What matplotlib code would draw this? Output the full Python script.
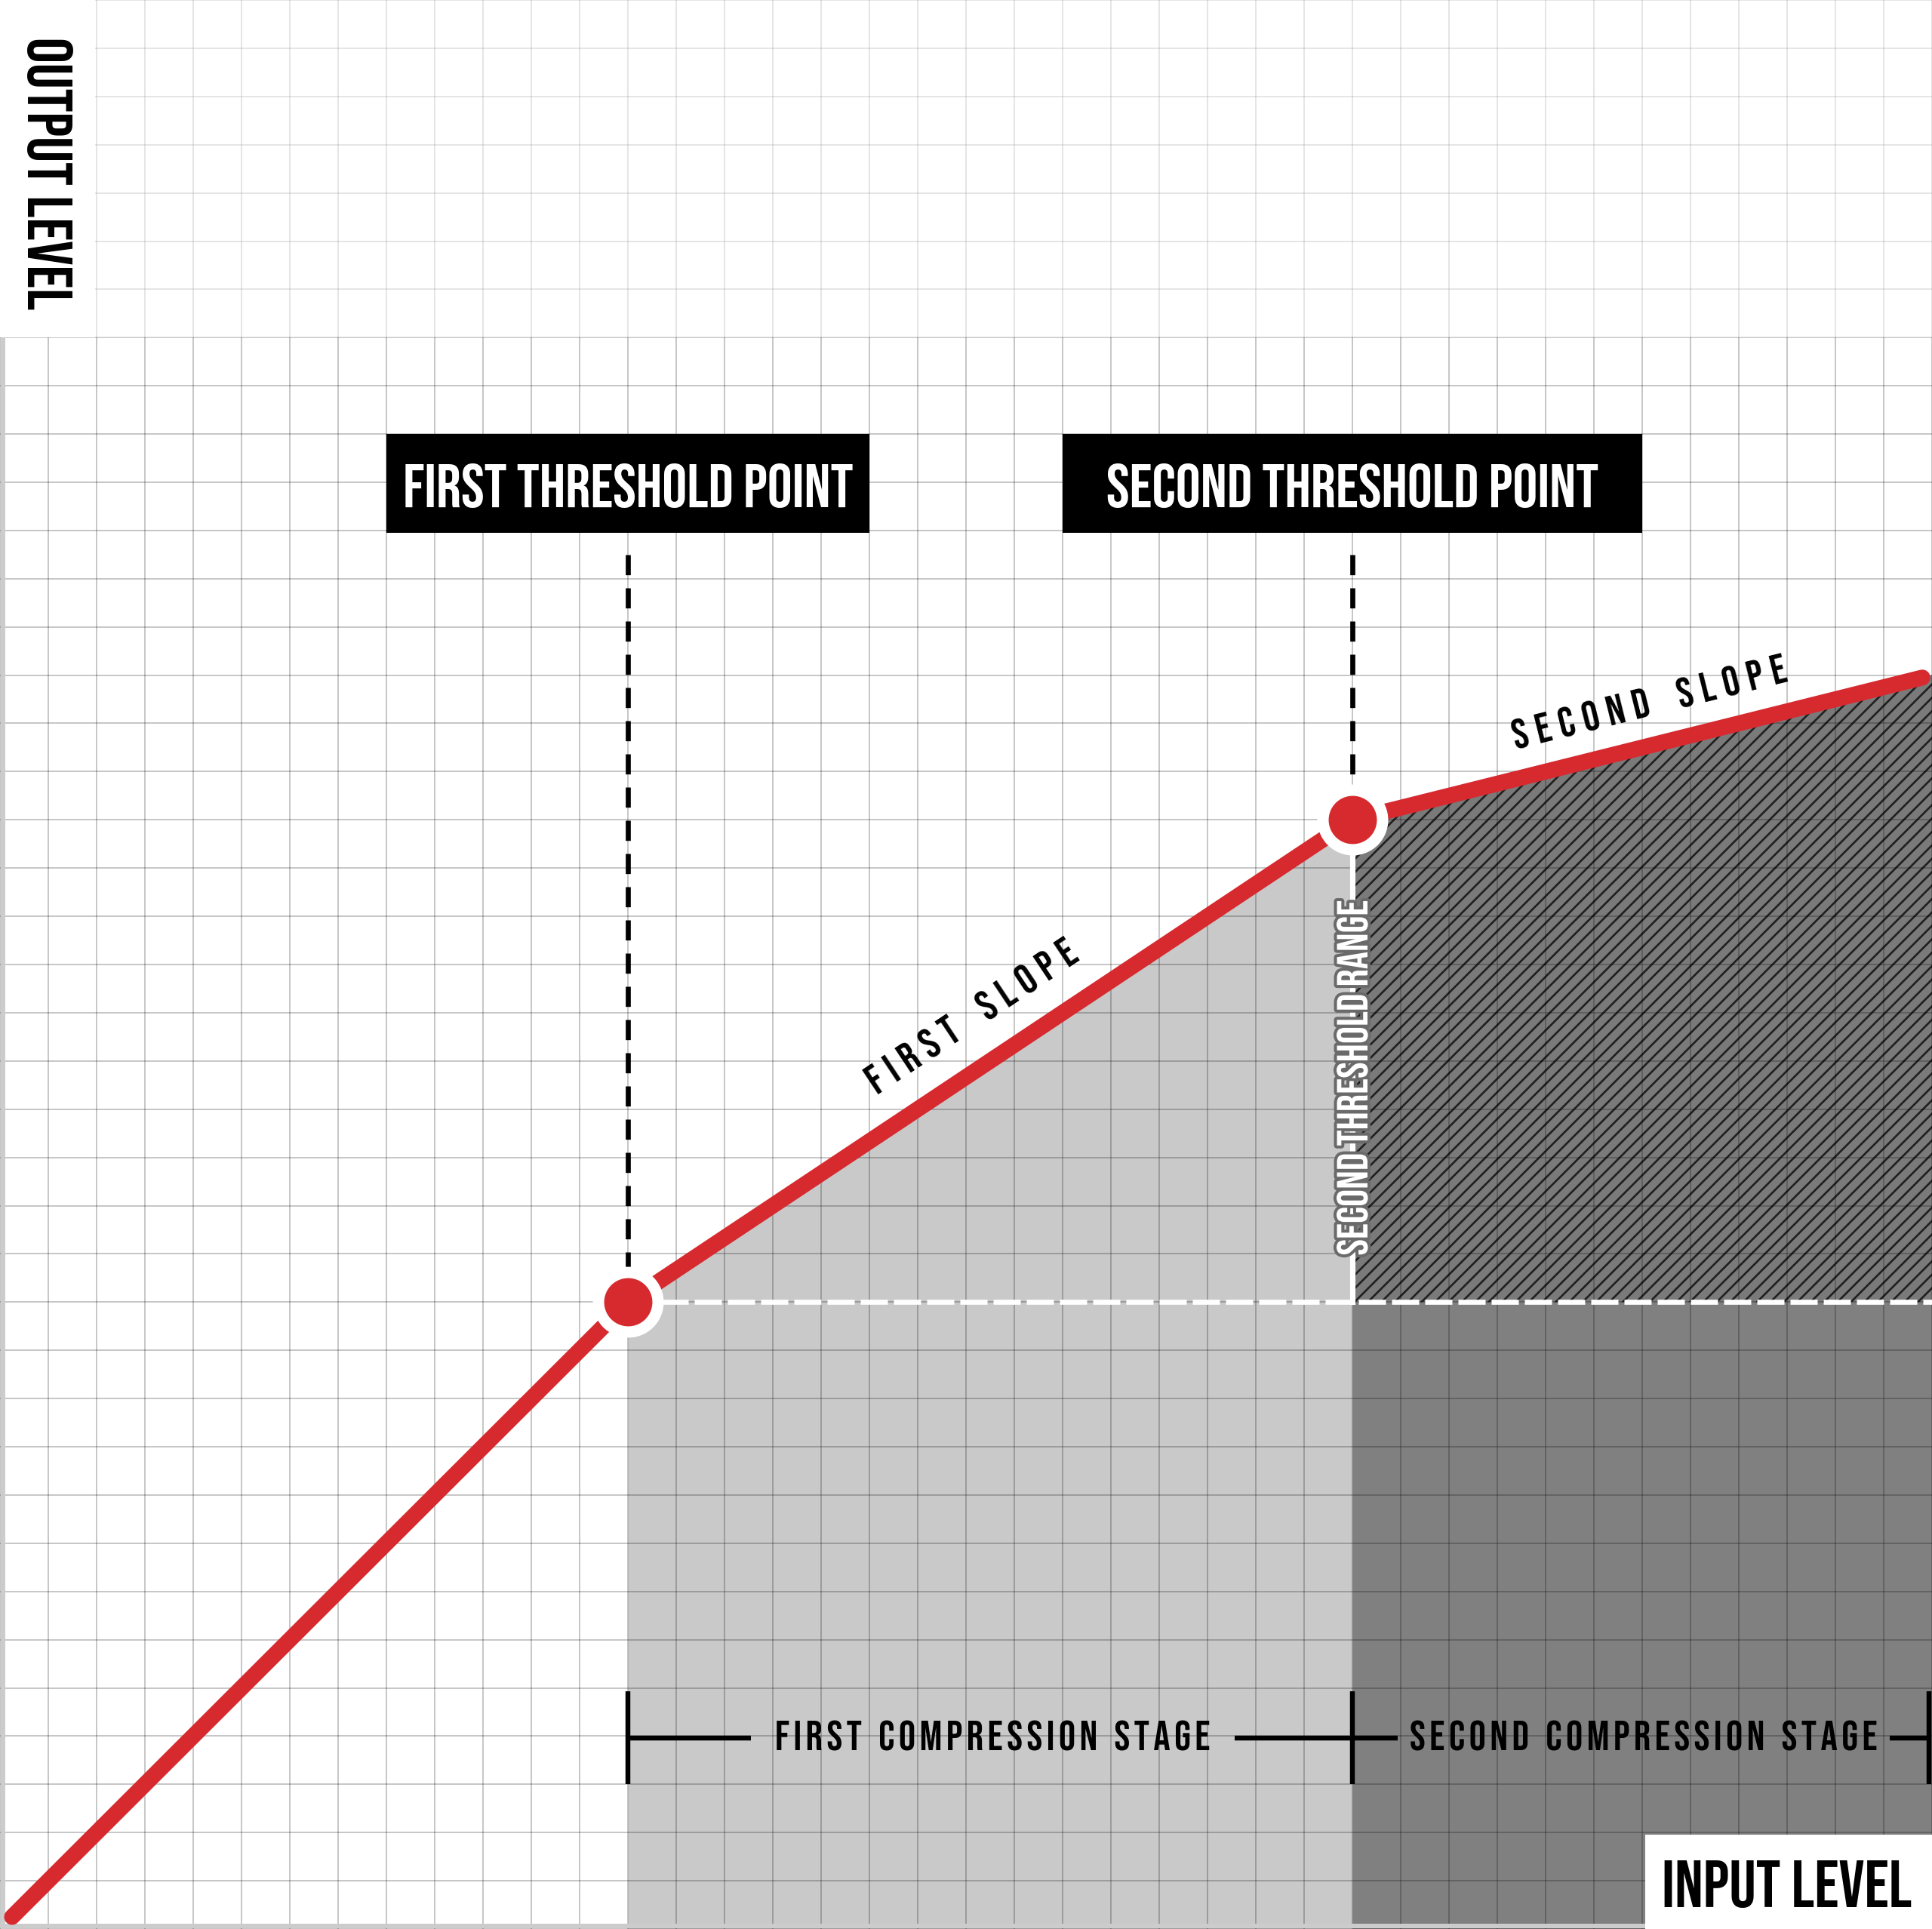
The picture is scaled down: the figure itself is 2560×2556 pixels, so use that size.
import numpy as np
import matplotlib
matplotlib.use("Agg")
import matplotlib.pyplot as plt
import matplotlib.patheffects as pe
from matplotlib.patches import Rectangle

# Two-stage compressor transfer curve, in grid units (40 x 40 grid)
input_level = [0, 13, 28, 40]
output_level = [0, 13, 23, 26]
threshold_in = [13, 28]
threshold_out = [13, 23]
threshold_labels = ["FIRST THRESHOLD POINT", "SECOND THRESHOLD POINT"]
slope_labels = ["FIRST SLOPE", "SECOND SLOPE"]
stage_labels = ["FIRST COMPRESSION STAGE", "SECOND COMPRESSION STAGE"]
stage_edges = [13, 28, 39.93]

FONT = ["Bebas Neue", "DejaVu Sans"]
RED = "#d62a2f"
plt.rcParams["hatch.linewidth"] = 1.2


def spaced(s, sep="\u2009", word_sep="\u2009\u2002\u2009"):
    return word_sep.join(sep.join(w) for w in s.split(" "))


fig = plt.figure(figsize=(16, 15.975), dpi=160)
ax = fig.add_axes([0, 0, 1, 1])
ax.set_xlim(0, 40)
ax.set_ylim(0, 40)
for sp in ax.spines.values():
    sp.set_visible(False)
ax.set_xticks(np.arange(0, 41))
ax.set_yticks(np.arange(0, 41))
ax.tick_params(length=0, labelbottom=False, labelleft=False)
ax.grid(True, color="black", alpha=0.22, lw=0.9)
ax.set_axisbelow(False)

# shaded stages
ax.fill_between(input_level[1:3], output_level[1:3], 0, color="#c9c9c9", lw=0, zorder=1)
ax.fill_between(input_level[2:4], output_level[2:4], 0, color="#808080", lw=0, zorder=1)
ax.fill_between(input_level[2:4], output_level[2:4], threshold_out[0],
                facecolor="#7a7a7a", edgecolor="#202020", hatch="///", lw=0, zorder=1.5)

# faded header area and white label corners
ax.add_patch(Rectangle((1.97, 33), 40, 8, facecolor="white", alpha=0.55, lw=0, zorder=3))
ax.add_patch(Rectangle((-1, 33), 2.97, 8, facecolor="white", lw=0, zorder=3))
ax.add_patch(Rectangle((34.07, -1), 7, 2.95, facecolor="white", lw=0, zorder=6))

# light axis lines
ax.plot([0.07, 0.07], [0, 33], color="#cccccc", lw=2.7, solid_capstyle="butt", zorder=4)
ax.plot([0, 34.07], [0.06, 0.06], color="#cccccc", lw=2.7, solid_capstyle="butt", zorder=4)

# threshold guides
for tx, ty in zip(threshold_in, threshold_out):
    ax.plot([tx, tx], [28.5, ty], color="black", lw=3.0, dashes=(4.0, 2.6), zorder=4)
ax.plot([threshold_in[0], 40], [threshold_out[0]] * 2, color="white", lw=3.0,
        dashes=(5.4, 1.2), zorder=4)
ax.plot([threshold_in[1]] * 2, [threshold_out[0], threshold_out[1]], color="white", lw=3.2,
        zorder=4)

# transfer curve
x0, x1 = 0.25, 39.8
xs = [x0] + input_level[1:-1] + [x1]
ys = list(np.interp(xs, input_level, output_level))
ax.plot(xs, ys, color=RED, lw=9.5, solid_capstyle="round", solid_joinstyle="round", zorder=5)
ax.plot(threshold_in, threshold_out, "o", ms=35.5, mfc=RED, mec="white", mew=6.75, zorder=6)

# threshold point boxes
for tx, lab in zip(threshold_in, threshold_labels):
    half = 5 if tx == threshold_in[0] else 6
    ax.add_patch(Rectangle((tx - half, 28.95), 2 * half, 2.05, facecolor="black", lw=0, zorder=6))
    ax.text(tx, 29.48, lab, color="white", fontsize=37, family=FONT,
            ha="center", va="baseline", zorder=7)

# slope labels along the segments
def seg_angle(i):
    p = ax.transData.transform([(input_level[i], output_level[i]),
                                (input_level[i + 1], output_level[i + 1])])
    d = p[1] - p[0]
    return np.degrees(np.arctan2(d[1], d[0]))

ax.text(20.1, 18.95, spaced(slope_labels[0]), rotation=seg_angle(1), rotation_mode="anchor",
        ha="center", va="center", fontsize=25, family=FONT, zorder=7)
ax.text(34.15, 25.45, spaced(slope_labels[1]), rotation=seg_angle(2), rotation_mode="anchor",
        ha="center", va="center", fontsize=25, family=FONT, zorder=7)

# second threshold range label
ax.text(threshold_in[1], 17.65, "SECOND THRESHOLD RANGE", rotation=90, color="white",
        ha="center", va="center", fontsize=26, family=FONT, zorder=7,
        path_effects=[pe.Stroke(linewidth=3.6, foreground="#6a6a6a"), pe.Normal()])

# compression stage brackets
yb = 3.96
gaps = [(15.55, 25.56), (28.94, 39.13)]
for i, lab in enumerate(stage_labels):
    a, b = stage_edges[i], stage_edges[i + 1]
    g0, g1 = gaps[i]
    ax.plot([a, g0], [yb, yb], color="black", lw=2.9, solid_capstyle="butt", zorder=4)
    ax.plot([g1, b], [yb, yb], color="black", lw=2.9, solid_capstyle="butt", zorder=4)
    ax.text((g0 + g1) / 2, yb + 0.04, spaced(lab, sep="\u200a", word_sep="\u2009\u2009"),
            ha="center", va="center", fontsize=25, family=FONT, zorder=7)
for e in stage_edges:
    ax.plot([e, e], [3.0, 4.93], color="black", lw=2.9, solid_capstyle="butt", zorder=4)

# axis titles
ax.text(1.02, 36.4, "OUTPUT LEVEL", rotation=-90, ha="center", va="center",
        fontsize=38, family=FONT, zorder=7)
ax.text(37.0, 0.45, "INPUT LEVEL", ha="center", va="baseline",
        fontsize=40, family=FONT, zorder=7)

fig.savefig("out.png", dpi=160)
